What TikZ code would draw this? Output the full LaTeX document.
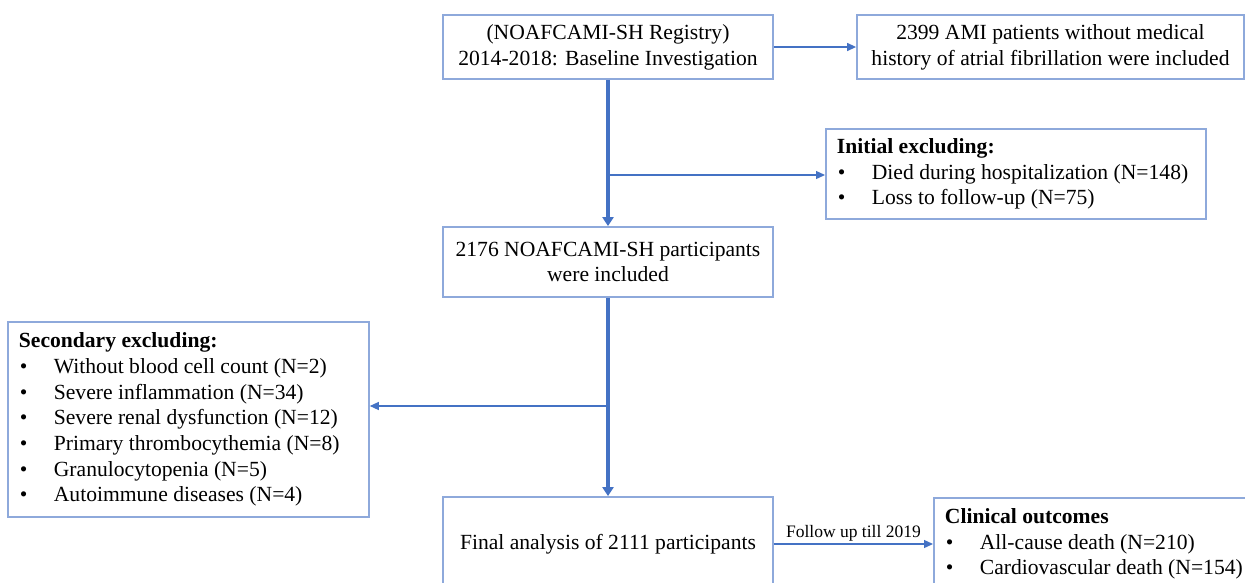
\documentclass[tikz,border=0pt]{standalone}
\usepackage{fontspec}
\setmainfont{Liberation Serif}
\usetikzlibrary{arrows.meta}
\definecolor{boxblue}{HTML}{8EA9DB}
\definecolor{lineblue}{HTML}{4472C4}
\newcommand{\bul}{\makebox[35pt][l]{\hspace{1pt}\textbullet}}
\begin{document}
\begin{tikzpicture}[x=1pt,y=-1pt,
  every node/.style={font={\fontsize{21.6}{25.7}\selectfont}},
  flowbox/.style={draw=boxblue, line width=1.8pt, rectangle, inner sep=0pt, align=center},
  listbox/.style={draw=boxblue, line width=1.8pt, rectangle, inner xsep=11pt, inner ysep=0pt, align=flush left},
  trunk/.style={draw=lineblue, line width=3.2pt},
  trunkarrow/.style={trunk, -{Triangle[length=9pt,width=11pt]}},
  branch/.style={draw=lineblue, line width=1.3pt, -{Triangle[length=9pt,width=8pt]}},
  lbl/.style={font={\fontsize{17.5}{20}\selectfont}, inner sep=2pt}
]
\useasboundingbox (0,0) rectangle (1245,582);
\clip (0,0) rectangle (1245,582);

\node[flowbox, minimum width=330pt, minimum height=64pt] (top) at (608,47)
  {(NOAFCAMI-SH Registry)\\2014-2018: Baseline Investigation};
\node[flowbox, minimum width=387pt, minimum height=64pt] (topr) at (1050.5,47)
  {2399 AMI patients without medical\\history of atrial fibrillation were included};
\node[listbox, text width=358pt, minimum height=90pt, anchor=west] (init) at (825,174)
  {\textbf{Initial excluding:}\\\bul Died during hospitalization (N=148)\\\bul Loss to follow-up (N=75)};
\node[listbox, text width=339pt, minimum height=195pt, anchor=west] (sec) at (7,419.5)
  {\textbf{Secondary excluding:}\\\bul Without blood cell count (N=2)\\\bul Severe inflammation (N=34)\\\bul Severe renal dysfunction (N=12)\\\bul Primary thrombocythemia (N=8)\\\bul Granulocytopenia (N=5)\\\bul Autoimmune diseases (N=4)};
\node[flowbox, minimum width=330pt, minimum height=70pt] (mid) at (608,262)
  {2176 NOAFCAMI-SH participants\\were included};
\node[flowbox, minimum width=330pt, minimum height=94pt] (final) at (608,544)
  {Final analysis of 2111 participants};
\node[listbox, text width=340pt, minimum height=92pt, anchor=west] (clin) at (933,544)
  {\textbf{Clinical outcomes}\\\bul All-cause death (N=210)\\\bul Cardiovascular death (N=154)};

\coordinate (j1) at (608,175);
\coordinate (j2) at (608,406);

\draw[branch] (top.east) -- (topr.west);
\draw[trunkarrow] (top.south) -- (mid.north);
\draw[branch] (j1) -- (j1 -| init.west);
\draw[trunkarrow] (mid.south) -- (final.north);
\draw[branch] (j2) -- (j2 -| sec.east);
\draw[branch] (final.east) -- node[lbl, above] (fu) {Follow up till 2019} (clin.west);
\end{tikzpicture}
\end{document}
